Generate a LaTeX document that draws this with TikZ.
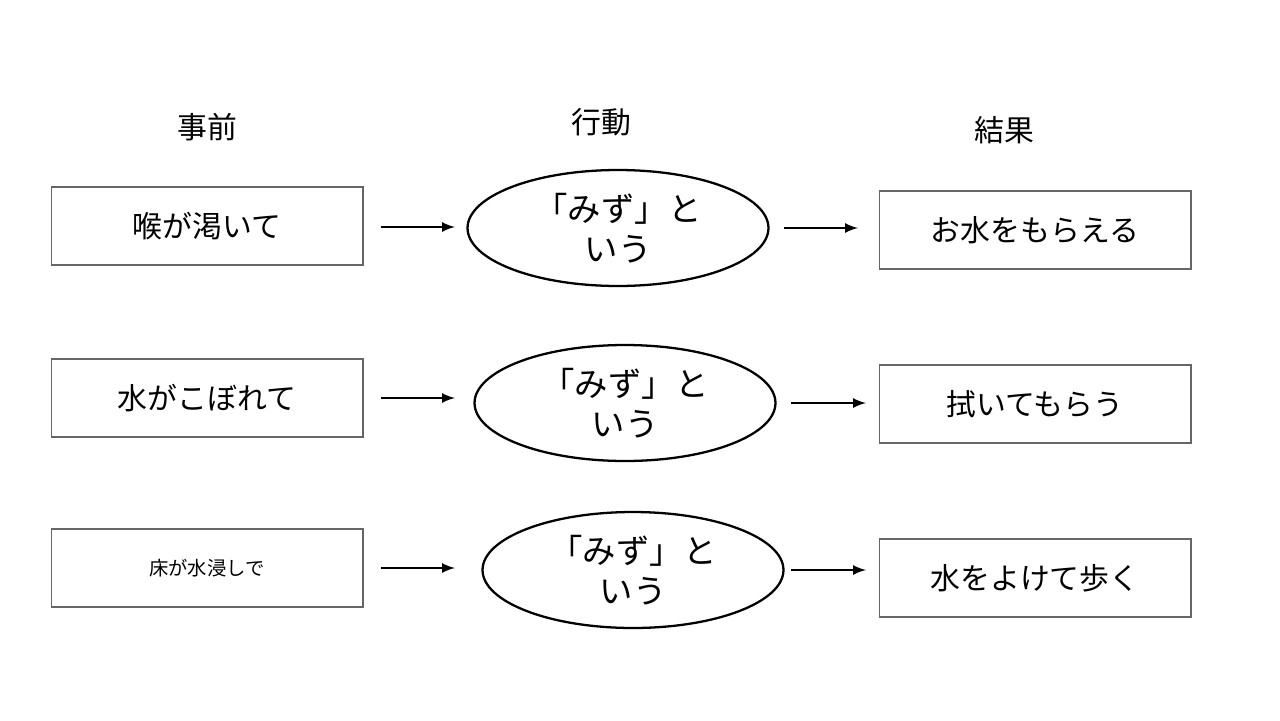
\documentclass[tikz,border=0pt]{standalone}
\usepackage{fontspec}
\newfontfamily\cjk{Noto Sans CJK JP}
\usetikzlibrary{shapes.geometric}
\begin{document}
\begin{tikzpicture}[x=0.02cm,y=-0.02cm,
	box/.style={draw=black!60,line width=0.6pt,minimum width=6.24cm,minimum height=1.56cm,font=\cjk\fontsize{17}{20}\selectfont},
	act/.style={draw,ellipse,line width=1.3pt,minimum width=6.02cm,minimum height=2.32cm,align=center,font=\cjk\fontsize{19}{23}\selectfont},
	head/.style={font=\cjk\fontsize{17}{20}\selectfont},
	arr/.style={-latex,line width=1.5pt}]
	\useasboundingbox (0,0) rectangle (1280,720);
	%Column headings
	\node[head] (hpre) at (207,127) {事前};
	\node[head] (hact) at (601,122) {行動};
	\node[head] (hres) at (1004,130) {結果};
	%Row 1
	\node[box] (pre1) at (207,226) {喉が渇いて};
	\node[act] (act1) at (618,228) {「みず」と\\いう};
	\node[box] (res1) at (1035,230) {お水をもらえる};
	%Row 2
	\node[box] (pre2) at (207,398) {水がこぼれて};
	\node[act] (act2) at (625,403) {「みず」と\\いう};
	\node[box] (res2) at (1035,404) {拭いてもらう};
	%Row 3
	\node[box,font=\cjk\fontsize{11}{13}\selectfont] (pre3) at (207,568) {床が水浸しで};
	\node[act] (act3) at (633,570) {「みず」と\\いう};
	\node[box] (res3) at (1035,578) {水をよけて歩く};
	%Arrows
	\coordinate (a1) at (381,227); \coordinate (b1) at (455,227);
	\coordinate (c1) at (784,228); \coordinate (d1) at (858,228);
	\coordinate (a2) at (381,398); \coordinate (b2) at (455,398);
	\coordinate (c2) at (791,403); \coordinate (d2) at (866,403);
	\coordinate (a3) at (381,568); \coordinate (b3) at (455,568);
	\coordinate (c3) at (791,570); \coordinate (d3) at (866,570);
	\foreach \i in {1,2,3}{
		\draw[arr] (a\i) -- (b\i);
		\draw[arr] (c\i) -- (d\i);
	}
\end{tikzpicture}
\end{document}
